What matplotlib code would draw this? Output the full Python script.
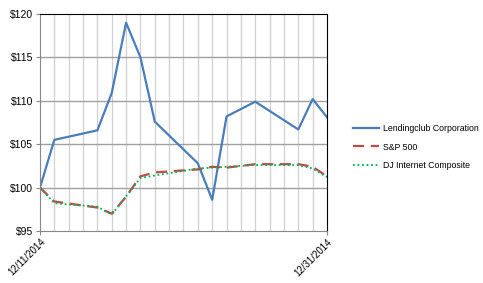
import matplotlib
matplotlib.use('Agg')
import matplotlib.pyplot as plt
import matplotlib.dates as mdates
import numpy as np
from datetime import date, timedelta

dates = ['2014-12-11', '2014-12-12', '2014-12-15', '2014-12-16', '2014-12-17',
         '2014-12-18', '2014-12-19', '2014-12-22', '2014-12-23', '2014-12-24',
         '2014-12-26', '2014-12-29', '2014-12-30', '2014-12-31']
lendingclub = [100.0, 105.5, 106.6, 110.9, 119.0, 115.0, 107.6, 102.8, 98.6,
               108.2, 109.9, 106.7, 110.2, 108.1]
sp500 = [100.0, 98.4, 97.7, 97.0, 98.95, 101.3, 101.75, 102.1, 102.4, 102.3,
         102.7, 102.7, 102.4, 101.3]
dj_internet = [100.0, 98.2, 97.8, 96.9, 99.0, 101.1, 101.4, 102.2, 102.3, 102.4,
               102.6, 102.6, 102.2, 101.2]
series_names = ['Lendingclub Corporation', 'S&P 500', 'DJ Internet Composite']

x = [date.fromisoformat(d) for d in dates]

plt.rcParams['font.family'] = ['Liberation Sans', 'DejaVu Sans']

fig = plt.figure(figsize=(4.83, 2.83), dpi=100)
ax = fig.add_axes([0.0828, 0.1837, 0.5942, 0.7668])

ax.plot(x, lendingclub, color='#4a7ebb', lw=1.6, label=series_names[0])
ax.plot(x, sp500, color='#be4b48', lw=1.6, ls=(0, (5, 3)), label=series_names[1])
ax.plot(x, dj_internet, color='#00b050', lw=1.3, ls=(0, (1, 1.5)), label=series_names[2])

start, end = x[0], x[-1]
ax.set_xlim(start, end)
ax.set_ylim(95, 120)

days = [start + timedelta(days=i) for i in range((end - start).days + 1)]
for d in days[1:-1]:
    ax.axvline(d, color='#d0d0d0', lw=0.9, zorder=0)
for v in range(100, 120, 5):
    ax.axhline(v, color='#a0a0a0', lw=1.0, zorder=0)

ax.set_yticks(np.arange(95, 121, 5))
ax.set_yticklabels(['$%d' % v for v in range(95, 121, 5)], fontsize=7.5)
ax.set_xticks([start, end])
ax.xaxis.set_major_formatter(mdates.DateFormatter('%m/%d/%Y'))
for lbl in ax.get_xticklabels():
    lbl.set_rotation(45)
    lbl.set_ha('right')
    lbl.set_rotation_mode('anchor')
    lbl.set_fontsize(7)
ax.tick_params(axis='y', length=3, color='#888888', pad=2)
ax.tick_params(axis='x', length=3, color='#888888', pad=1)

ax.spines['top'].set_color('black')
ax.spines['right'].set_color('black')
ax.spines['left'].set_color('#888888')
ax.spines['bottom'].set_color('#888888')

fig.legend(loc='upper left', bbox_to_anchor=(0.725, 0.57), frameon=False,
           fontsize=6.3, handlelength=3.0, labelspacing=1.05, handletextpad=0.5,
           borderaxespad=0, borderpad=0.3)

fig.savefig('out.png', dpi=100)
